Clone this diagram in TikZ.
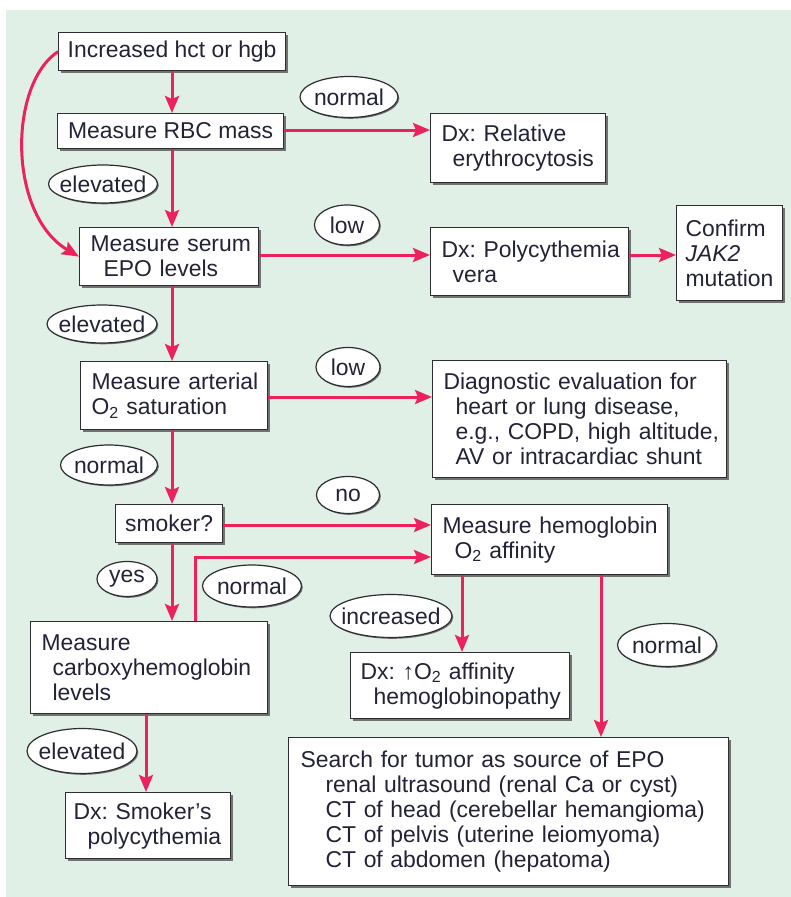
\documentclass[tikz,border=0pt]{standalone}
\usepackage{fontspec}
\setmainfont{Liberation Sans}
\usetikzlibrary{shapes.geometric,arrows.meta,shadows}
\definecolor{bg}{RGB}{224,240,230}
\definecolor{pk}{RGB}{236,34,92}
\definecolor{bd}{RGB}{45,45,50}
\definecolor{tx}{RGB}{35,35,55}
\frenchspacing
\begin{document}
\begin{tikzpicture}[x=1pt,y=-1pt,font=\fontsize{22.9}{25}\selectfont\frenchspacing]
\tikzset{
 box/.style={draw=bd, fill=white, line width=1.2pt, inner xsep=11pt, inner ysep=0pt, align=left, anchor=north west, text=tx,
   drop shadow={shadow xshift=2.5pt, shadow yshift=-2.5pt, fill=black!75, opacity=0.7}},
 lab/.style={ellipse, draw=bd, fill=white, line width=1.2pt, inner xsep=-12pt, inner ysep=-2pt, text=tx,
   drop shadow={shadow xshift=1.3pt, shadow yshift=-1.3pt, fill=black!75, opacity=0.7}},
 arr/.style={draw=pk, line width=3pt, -{Stealth[length=17pt,width=14pt,inset=3pt]}},
}
\useasboundingbox (0,0) rectangle (791,897);
\fill[bg] (6,10) rectangle (791,897);

% boxes
\node[box, minimum width=227pt, minimum height=38pt, inner xsep=0pt] (inc) at (58,32) {Increased hct or hgb};
\node[box, minimum width=226pt, minimum height=35pt, inner xsep=0pt] (rbc) at (57,113) {Measure RBC mass};
\node[box, text width=157pt, minimum height=58pt] (epo) at (79,227) {\mbox{Measure serum}\\\hspace*{13pt}\mbox{EPO levels}};
\node[box, text width=153pt, minimum height=69pt] (rel) at (430,113) {\mbox{Dx: Relative}\\\hspace*{11pt}\mbox{erythrocytosis}};
\node[box, text width=176pt, minimum height=68pt] (pv) at (430,227) {\mbox{Dx: Polycythemia}\\\hspace*{11pt}\mbox{vera}};
\node[box, text width=88pt, inner xsep=9pt, minimum height=95pt] (jak) at (676,205) {Confirm\\\textit{JAK2}\\mutation};
\node[box, text width=165pt, minimum height=68pt] (art) at (80,361) {\mbox{Measure arterial}\\\mbox{O\textsubscript{2} saturation}};
\node[box, text width=272pt, minimum height=117pt] (diag) at (432,360) {\mbox{Diagnostic evaluation for}\\\hspace*{12pt}\mbox{heart or lung disease,}\\\hspace*{12pt}\mbox{e.g., COPD, high altitude,}\\\hspace*{12pt}\mbox{AV or intracardiac shunt}};
\node[box, minimum width=107pt, minimum height=38pt, inner xsep=0pt] (smk) at (115,504) {smoker?};
\node[box, text width=214pt, minimum height=70pt] (hgb) at (431,504) {\mbox{Measure hemoglobin}\\\hspace*{12pt}\mbox{O\textsubscript{2} affinity}};
\node[box, text width=215pt, minimum height=92pt] (carb) at (30,621) {Measure\\\hspace*{11pt}carboxyhemoglobin\\\hspace*{11pt}levels};
\node[box, text width=149pt, inner xsep=8pt, minimum height=66pt] (sp) at (65,792) {\mbox{Dx: Smoker's}\\\hspace*{14pt}\mbox{polycythemia}};
\node[box, text width=199pt, inner xsep=10pt, minimum height=66pt] (up) at (350,652) {\mbox{Dx: ↑O\textsubscript{2} affinity}\\\hspace*{13pt}\mbox{hemoglobinopathy}};
\node[box, text width=416pt, inner xsep=12pt, minimum height=148pt] (tum) at (288,737) {\mbox{Search for tumor as source of EPO}\\\hspace*{25pt}\mbox{renal ultrasound (renal Ca or cyst)}\\\hspace*{25pt}\mbox{CT of head (cerebellar hemangioma)}\\\hspace*{25pt}\mbox{CT of pelvis (uterine leiomyoma)}\\\hspace*{25pt}\mbox{CT of abdomen (hepatoma)}};

% labels
\node[lab, minimum width=98pt, minimum height=41pt] (ln1) at (349,97) {normal};
\node[lab, minimum width=109pt, minimum height=38pt] (le1) at (103,184) {elevated};
\node[lab, minimum width=65pt, minimum height=40pt] (ll1) at (347,225) {low};
\node[lab, minimum width=110pt, minimum height=38pt] (le2) at (102,324) {elevated};
\node[lab, minimum width=64pt, minimum height=39pt] (ll2) at (348,367) {low};
\node[lab, minimum width=97pt, minimum height=40pt] (ln2) at (109,465) {normal};
\node[lab, minimum width=63pt, minimum height=37pt] (lno) at (348,495) {no};
\node[lab, minimum width=60pt, minimum height=35pt] (lyes) at (127,579) {yes};
\node[lab, minimum width=99pt, minimum height=42pt] (ln3) at (252,586) {normal};
\node[lab, minimum width=122pt, minimum height=43pt] (linc) at (391,616) {increased};
\node[lab, minimum width=99pt, minimum height=43pt] (ln4) at (667,645) {normal};
\node[lab, minimum width=110pt, minimum height=45pt] (le3) at (82,751) {elevated};

% guide coordinates
\coordinate (cx) at (172,0);
\coordinate (cs) at (146,0);
\coordinate (cb) at (195,0);
\coordinate (ua) at (462,0);
\coordinate (tb) at (601,0);
\coordinate (r1) at (0,130);
\coordinate (r2) at (0,255);
\coordinate (r3) at (0,397);
\coordinate (r4) at (0,525);
\coordinate (r5) at (0,557);

% connectors
\draw[arr] (inc.south -| cx) -- (rbc.north -| cx);
\draw[arr] (rbc.south -| cx) -- (epo.north -| cx);
\draw[arr] (epo.south -| cx) -- (art.north -| cx);
\draw[arr] (art.south -| cx) -- (smk.north -| cx);
\draw[arr] (smk.south -| cx) -- (carb.north -| cx);
\draw[arr] (carb.south -| cs) -- (sp.north -| cs);
\draw[arr] (rbc.east |- r1) -- (rel.west |- r1);
\draw[arr] (epo.east |- r2) -- (pv.west |- r2);
\draw[arr] (pv.east |- r2) -- (jak.west |- r2);
\draw[arr] (art.east |- r3) -- (diag.west |- r3);
\draw[arr] (smk.east |- r4) -- (hgb.west |- r4);
\draw[arr] (carb.north -| cb) |- (hgb.west |- r5);
\draw[arr] (hgb.south -| ua) -- (up.north -| ua);
\draw[arr] (hgb.south -| tb) -- (tum.north -| tb);
\draw[arr] (inc.west) .. controls (8,85) and (8,215) .. (epo.west);
\end{tikzpicture}
\end{document}
